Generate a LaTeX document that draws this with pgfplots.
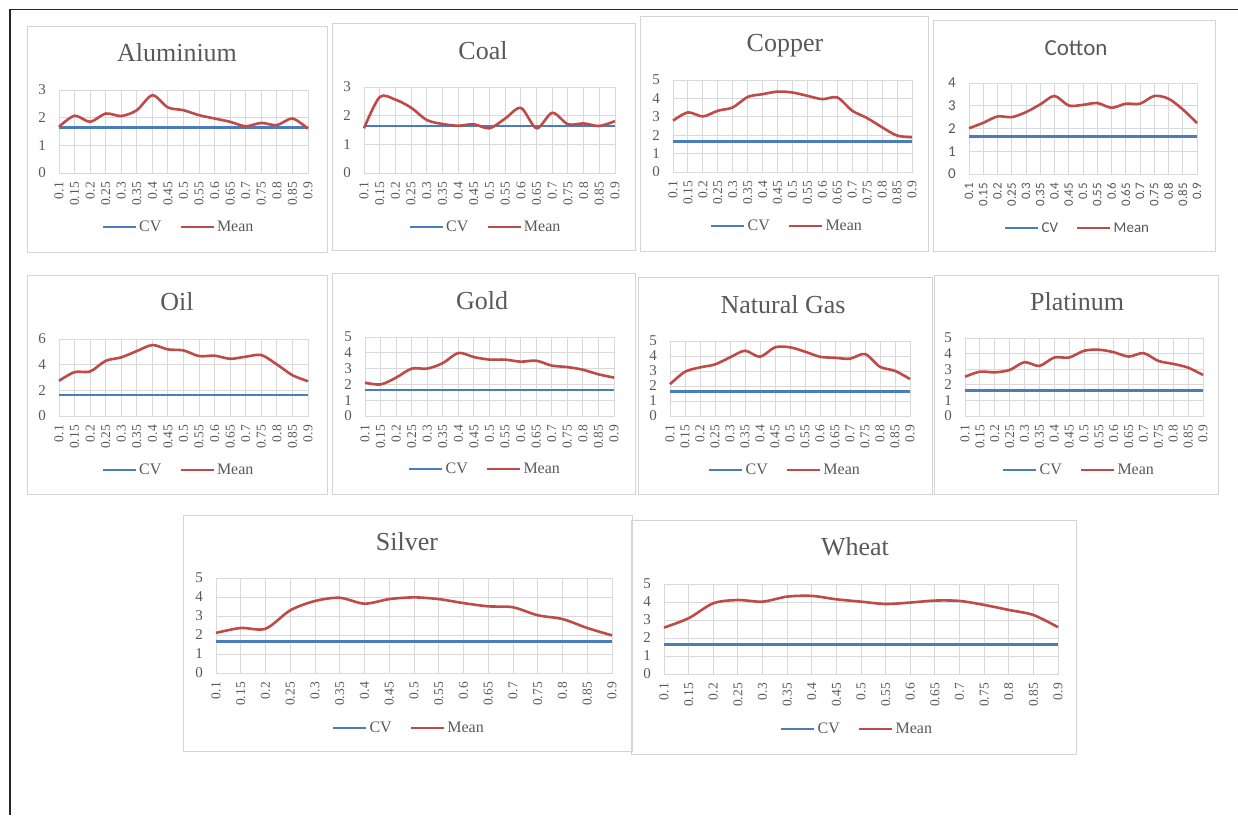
\documentclass[border=0pt]{standalone}
\usepackage{fontspec}
\setmainfont{Liberation Serif}
\newfontfamily\carlito{Carlito}
\usepackage{pgfplots}
\usepackage{pgfplotstable}
\pgfplotsset{compat=1.18}
\definecolor{gridc}{HTML}{D9D9D9}
\definecolor{lab}{HTML}{595959}
\definecolor{cvc}{HTML}{4A7EBB}
\definecolor{meanc}{HTML}{BE4B48}
\definecolor{framec}{HTML}{D4D4D4}

\pgfplotstableread{
x al coal cu cot oil gold ng pt ag wh
0 1.67 1.56 2.79 2.01 2.74 2.11 2.12 2.52 2.11 2.58
1 2.07 2.65 3.24 2.25 3.42 2.00 2.95 2.84 2.37 3.10
2 1.85 2.56 3.02 2.53 3.47 2.43 3.24 2.80 2.33 3.93
3 2.15 2.28 3.33 2.50 4.30 3.00 3.44 2.95 3.30 4.11
4 2.06 1.85 3.51 2.72 4.57 3.00 3.91 3.45 3.79 4.02
5 2.27 1.71 4.08 3.06 5.06 3.35 4.35 3.21 3.96 4.30
6 2.81 1.65 4.23 3.43 5.53 3.99 3.95 3.75 3.65 4.34
7 2.37 1.70 4.37 3.01 5.19 3.73 4.58 3.75 3.89 4.15
8 2.27 1.56 4.32 3.04 5.11 3.57 4.58 4.18 3.98 4.02
9 2.09 1.90 4.14 3.12 4.67 3.57 4.29 4.25 3.89 3.89
10 1.97 2.27 3.96 2.91 4.70 3.44 3.95 4.09 3.68 3.97
11 1.85 1.56 4.05 3.09 4.46 3.50 3.88 3.81 3.51 4.08
12 1.69 2.10 3.33 3.09 4.62 3.19 3.82 4.03 3.46 4.06
13 1.81 1.70 2.93 3.43 4.75 3.10 4.13 3.53 3.04 3.84
14 1.73 1.73 2.43 3.31 4.02 2.93 3.28 3.34 2.84 3.56
15 1.97 1.64 1.98 2.84 3.18 2.64 3.01 3.10 2.37 3.28
16 1.60 1.81 1.89 2.24 2.71 2.43 2.46 2.63 1.98 2.60
}\means

\pgfplotstableread{
x cv
0 1.645
16 1.645
}\cvdata

\pgfplotsset{
 panel/.style={
  scale only axis, anchor=north west,
  xmin=0, xmax=16, ymin=0,
  xtick={0,1,...,16},
  xticklabels={0.1,0.15,0.2,0.25,0.3,0.35,0.4,0.45,0.5,0.55,0.6,0.65,0.7,0.75,0.8,0.85,0.9},
  grid=major,
  major grid style={draw=gridc, line width=0.9pt},
  axis line style={draw=gridc, line width=0.9pt},
  major tick length=0pt,
  /pgf/number format/assume math mode=true,
  tick label style={font=\fontsize{13.5}{13.5}\selectfont, text=lab},
  yticklabel style={font=\fontsize{15}{15}\selectfont},
  xticklabel style={rotate=90, anchor=east, inner sep=0pt},
  xticklabel shift=9pt,
  yticklabel style={anchor=east, inner sep=0pt},
  yticklabel shift=13pt,
  legend columns=2,
  legend style={draw=none, fill=none, anchor=center, font=\fontsize{16}{16}\selectfont, text=lab,
    /tikz/every even column/.append style={column sep=16pt}},
  legend image code/.code={\draw[##1] (0pt,0pt) -- (33pt,0pt);},
  clip=false,
 },
 cvline/.style={color=cvc, line width=2.6pt},
 meanline/.style={color=meanc, line width=2.6pt, smooth, tension=0.5},
}

% #1 left, #2 top, #3 width, #4 height, #5 ymax, #6 ytick distance, #7 legend x rel, #8 legend y rel, #9 column
\newcommand{\panel}[9]{%
\begin{axis}[panel, at={(#1pt,-#2pt)}, width=#3pt, height=#4pt, ymax=#5, ytick distance=#6,
  legend style={at={(#7,#8)}}]
\addplot[cvline] table[x=x,y=cv]{\cvdata};
\addlegendentry{CV}
\addplot[meanline] table[x=x,y=#9]{\means};
\addlegendentry{Mean}
\end{axis}}

\newcommand{\ttl}[3]{\node[anchor=base, font=\fontsize{26}{26}\selectfont, text=lab, inner sep=0pt] at (#1pt,-#2pt) {#3};}

\begin{document}
\begin{tikzpicture}
\useasboundingbox (0pt,0pt) rectangle (1238pt,-815pt);
\draw[line width=1.3pt, black!85] (10pt,-815pt) -- (10pt,-9.3pt) -- (1238pt,-9.3pt);

% frames
\draw[framec, line width=1pt] (27pt,-26pt) rectangle (327pt,-252pt);
\draw[framec, line width=1pt] (332pt,-23pt) rectangle (635pt,-250pt);
\draw[framec, line width=1pt] (640pt,-16pt) rectangle (928pt,-251pt);
\draw[framec, line width=1pt] (933pt,-20pt) rectangle (1215pt,-251pt);
\draw[framec, line width=1pt] (27pt,-275pt) rectangle (327pt,-494pt);
\draw[framec, line width=1pt] (332pt,-273pt) rectangle (635pt,-494pt);
\draw[framec, line width=1pt] (638pt,-277pt) rectangle (932pt,-494pt);
\draw[framec, line width=1pt] (934pt,-275pt) rectangle (1218pt,-494pt);
\draw[framec, line width=1pt] (183pt,-515pt) rectangle (632pt,-751pt);
\draw[framec, line width=1pt] (631pt,-520pt) rectangle (1076pt,-754pt);

% titles
\ttl{177}{61.7}{Aluminium}
\ttl{483}{59.3}{Coal}
\ttl{785}{51.3}{Copper}
\node[anchor=base, font=\carlito\fontsize{23}{23}\selectfont, text=lab, inner sep=0pt] at (1076pt,-55.7pt) {Cotton};
\ttl{177}{310.7}{Oil}
\ttl{482}{309}{Gold}
\ttl{783}{313.3}{Natural Gas}
\ttl{1077}{310.7}{Platinum}
\ttl{407}{550.7}{Silver}
\ttl{855}{555.7}{Wheat}

% panels
\panel{59}{90}{249}{83}{3}{1}{0.48}{-0.65}{al}
\panel{364}{87}{251}{86}{3}{1}{0.484}{-0.628}{coal}
\panel{673}{80}{239}{92}{5}{1}{0.477}{-0.587}{cu}
\begin{axis}[panel, at={(969pt,-83pt)}, width=228pt, height=91pt, ymax=4, ytick distance=1,
  tick label style={font=\carlito\fontsize{13}{13}\selectfont},
  yticklabel style={font=\carlito\fontsize{15}{15}\selectfont},
  legend style={at={(0.476,-0.593)}, font=\carlito\fontsize{15}{15}\selectfont}]
\addplot[cvline] table[x=x,y=cv]{\cvdata};
\addlegendentry{CV}
\addplot[meanline] table[x=x,y=cot]{\means};
\addlegendentry{Mean}
\end{axis}
\panel{59}{339}{249}{77}{6}{2}{0.48}{-0.70}{oil}
\panel{365}{337}{249}{79}{5}{1}{0.482}{-0.671}{gold}
\panel{670}{341}{240}{75}{5}{1}{0.479}{-0.72}{ng}
\panel{965}{338}{238}{78}{5}{1}{0.479}{-0.692}{pt}
\panel{216}{578}{396}{95}{5}{1}{0.487}{-0.579}{ag}
\panel{664}{584}{394}{90}{5}{1}{0.49}{-0.611}{wh}
\end{tikzpicture}
\end{document}
